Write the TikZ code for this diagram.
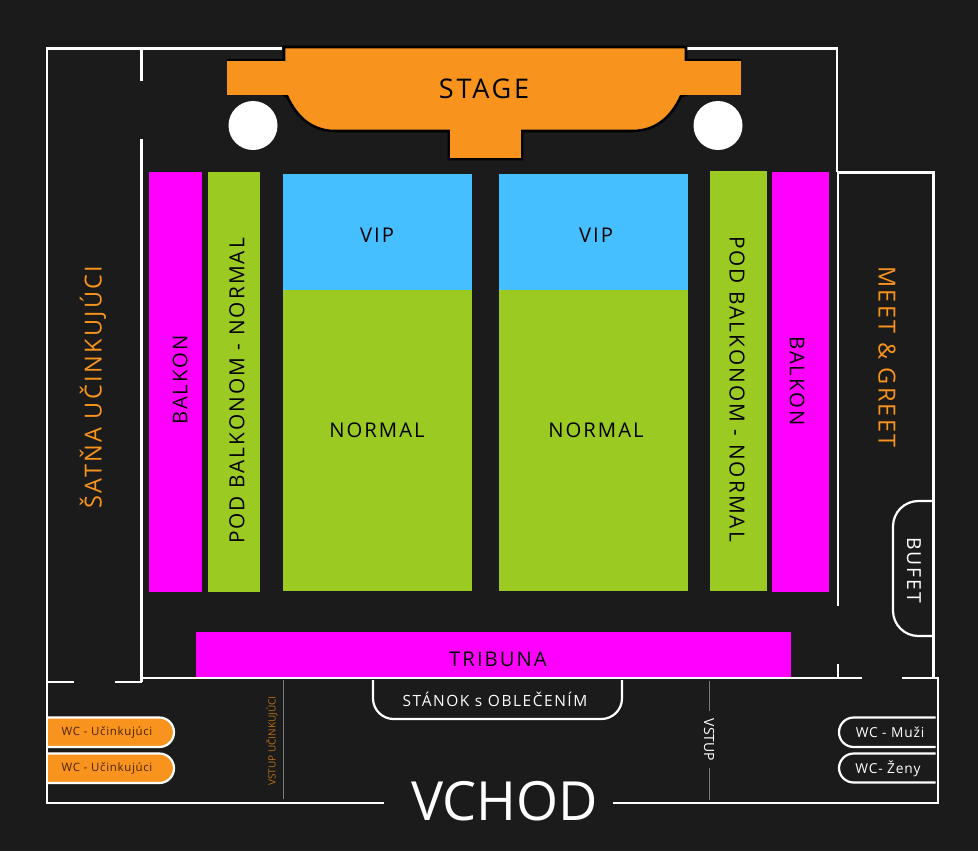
\documentclass[tikz,border=0pt]{standalone}
\usepackage{fontspec}
\setmainfont[LetterSpace=10]{Open Sans}
\newfontfamily\plainsans{Open Sans}
\newfontfamily\midsans[LetterSpace=6]{Open Sans}
\definecolor{bgdark}{HTML}{1B1B1B}
\definecolor{stageorange}{HTML}{F8941D}
\definecolor{mag}{HTML}{FF00FF}
\definecolor{grn}{HTML}{9BCA23}
\definecolor{sky}{HTML}{45BFFF}
\definecolor{wcbrown}{HTML}{4A2205}
\definecolor{vline}{HTML}{7A7A7A}
\tikzset{
  wall/.style={draw=white,line width=2.6pt*0.75,line cap=butt},
  lab/.style={inner sep=0pt,text=black,font=\fontsize{15.2}{15}\selectfont},
  longlab/.style={inner sep=0pt,text=black,font=\fontsize{15.6}{15}\selectfont},
  wlab/.style={inner sep=0pt,text=white},
  olab/.style={inner sep=0pt,text=stageorange,font=\fontsize{17.6}{18}\selectfont},
  wcbox/.style={draw=white,line width=2.2pt*0.75},
  thinline/.style={draw=vline,line width=0.75pt},
  wctext/.style={inner sep=0pt,text=wcbrown,font=\midsans\fontsize{8.6}{9}\selectfont},
  wcwhite/.style={inner sep=0pt,text=white,font=\midsans\fontsize{10.3}{10}\selectfont},
}
\begin{document}
\begin{tikzpicture}[x=0.75pt,y=-0.75pt]
\useasboundingbox (0,0) rectangle (978,851);
\fill[bgdark] (0,0) rectangle (978,851);
% walls
\draw[wall] (282,48.5) -- (47,48.5) -- (47,803) -- (384,803);
\draw[wall] (613,803) -- (938,803) -- (938,678) -- (902,678);
\draw[wall] (685,48.5) -- (837,48.5) -- (837,172);
\draw[wall] (141.5,48.5) -- (141.5,81);
\draw[wall] (141.5,139) -- (141.5,682);
\draw[wall] (47,682) -- (74,682);
\draw[wall] (115,682) -- (141.5,682);
\draw[wall] (141.5,678) -- (862,678);
\draw[wall] (838,172) -- (838,606);
\draw[wall] (838,664) -- (838,678);
\draw[wall] (837,172.5) -- (933.5,172.5) -- (933.5,678);
% stage
\draw[black,line width=1.9pt,fill=stageorange]
  (284,47) -- (686,47) -- (686,95) -- (681,96)
  .. controls (671,118) and (655,131) .. (632,131)
  -- (522,131) -- (522,159) -- (449,159) -- (449,131) -- (335,131)
  .. controls (313,131) and (297,118) .. (287,96) -- (284,95) -- cycle;
\fill[stageorange] (227,61) rectangle (741,95);
\fill[stageorange] (450,125) rectangle (521,158);
\draw[black,line width=1pt] (227,60) -- (284,60);
\draw[black,line width=1pt] (686,60) -- (741,60);
\fill[white] (253,125.5) circle (24.5);
\fill[white] (718,125.5) circle (24.5);
\node[lab,font=\fontsize{20.3}{21}\selectfont] (stage) at (484,89) {STAGE};
% zones
\fill[mag] (149,172) rectangle (202,592);
\fill[grn] (208,172) rectangle (260,592);
\fill[sky] (283,174) rectangle (472,290);
\fill[grn] (283,290) rectangle (472,591);
\fill[sky] (499,174) rectangle (688,290);
\fill[grn] (499,290) rectangle (688,591);
\fill[grn] (710,171) rectangle (767,591);
\fill[mag] (772,172) rectangle (829,592);
\fill[mag] (196,632) rectangle (791,677);
\node[lab,rotate=90] (balkonL) at (180,380) {BALKON};
\node[longlab,rotate=90] (podL) at (237,391) {POD BALKONOM - NORMAL};
\node[lab] (vip1) at (377,235) {VIP};
\node[lab] (vip2) at (596,235) {VIP};
\node[lab] (norm1) at (377,430) {NORMAL};
\node[lab] (norm2) at (596,430) {NORMAL};
\node[longlab,rotate=-90] (podR) at (737,389) {POD BALKONOM - NORMAL};
\node[lab,rotate=-90] (balkonR) at (797,381) {BALKON};
\node[lab] (trib) at (498,659) {TRIBUNA};
\node[olab,rotate=90] (satna) at (93,387) {ŠATŇA UČINKUJÚCI};
\node[olab,rotate=-90] (meet) at (887,357) {MEET \& GREET};
% stanok
\draw[wcbox,rounded corners=15.5pt] (373,680) -- (373,719) -- (622,719) -- (622,680);
\node[wlab,font=\fontsize{11.6}{12}\selectfont] (stanok) at (495,699.5) {STÁNOK s OBLEČENÍM};
% bufet
\draw[wcbox,rounded corners=19pt] (933,501) -- (893,501) -- (893,636) -- (933,636);
\node[wlab,rotate=-90,font=\fontsize{14.5}{14}\selectfont] (bufet) at (914,570) {BUFET};
% wc left
\draw[wcbox,fill=stageorange,rounded corners=11pt] (48,717.5) -- (174,717.5) -- (174,747) -- (48,747);
\draw[wcbox,fill=stageorange,rounded corners=11pt] (48,753.5) -- (174,753.5) -- (174,783) -- (48,783);
\draw[wall] (47,710) -- (47,790);
\node[wctext] (wc1) at (107,732) {WC - Učinkujúci};
\node[wctext] (wc2) at (107,768) {WC - Učinkujúci};
% wc right
\draw[wcbox,rounded corners=11pt] (935.5,717.5) -- (839,717.5) -- (839,747) -- (935.5,747);
\draw[wcbox,rounded corners=11pt] (935.5,753.5) -- (839,753.5) -- (839,782.5) -- (935.5,782.5);
\node[wcwhite] (muzi) at (890,732.5) {WC - Muži};
\node[wcwhite] (zeny) at (888,768.5) {WC- Ženy};
% vstup
\node[inner sep=0pt,text=stageorange!75!black,rotate=90,font=\plainsans\fontsize{7.5}{8}\selectfont] (vu) at (272,741) {VSTUP UČINKUJÚCI};
\coordinate (vuT) at (283,680);
\coordinate (vuB) at (283,799);
\draw[thinline] (vuT) -- (vuB);
\node[wlab,rotate=-90,font=\plainsans\fontsize{10.5}{10}\selectfont] (vs) at (709,740) {VSTUP};
\coordinate (vsT) at (709.5,681);
\coordinate (vsA) at (709.5,711);
\coordinate (vsC) at (709.5,768);
\coordinate (vsB) at (709.5,800);
\draw[thinline] (vsT) -- (vsA);
\draw[thinline] (vsC) -- (vsB);
% vchod
\node[wlab,font=\plainsans\fontsize{40.5}{40}\selectfont] (vchod) at (504.5,801) {VCHOD};
\end{tikzpicture}
\end{document}
